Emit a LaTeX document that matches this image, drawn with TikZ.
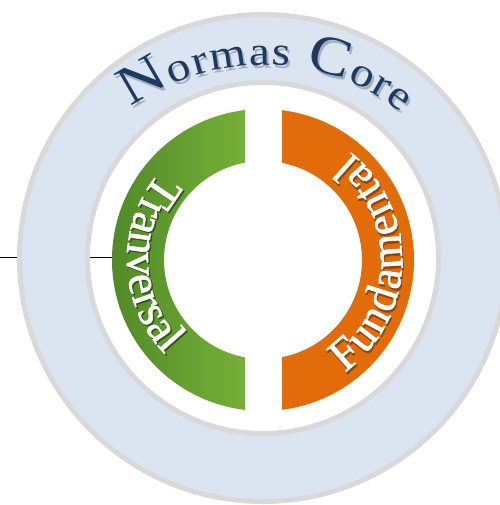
\documentclass[tikz,border=0pt]{standalone}
\usepackage{fontspec}
\setmainfont{Liberation Serif}
\newfontfamily\wafont{Liberation Serif}[FakeStretch=1.15]
\newfontfamily\ringff{Liberation Serif}[FakeBold=1.2]
\usetikzlibrary{decorations.text}
\definecolor{ringblue}{RGB}{219,229,241}
\definecolor{ringgrey}{RGB}{217,217,217}
\definecolor{gdark}{RGB}{78,136,38}
\definecolor{glight}{RGB}{118,176,56}
\definecolor{orng}{RGB}{227,108,10}
\definecolor{navy}{RGB}{31,58,96}
\definecolor{navyshadow}{RGB}{165,177,195}
\definecolor{gshadow}{RGB}{50,88,25}
\definecolor{oshadow}{RGB}{150,68,8}
\newcommand\capfont{\wafont\fontsize{55}{55}\selectfont}
\newcommand\lowfont{\wafont\fontsize{41}{41}\selectfont}
\newcommand\ringfont{\ringff\fontsize{46}{46}\selectfont}
\tikzset{
  greystroke/.style={draw=ringgrey, line width=5},
  alongtext/.style={decorate, decoration={text along path, text={#1}, text align=fit to path}}
}
\begin{document}
\begin{tikzpicture}[x=1pt,y=1pt]
\useasboundingbox (-263,-247) rectangle (236,258);
\fill[white] (-263,-247) rectangle (236,258);
% inner white disc
\fill[white] (0,0) circle[radius=178];
% connector
\coordinate (lstart) at (-263,1);
\coordinate (lend) at (-150,1);
\draw[black, line width=0.8] (lstart) -- (lend);
% outer annulus
\fill[ringblue, even odd rule] (0,0) circle[radius=243.5] (0,0) circle[radius=175.5];
\path[greystroke] (0,0) circle[radius=243.5];
\path[greystroke] (0,0) circle[radius=175.5];
% green half ring
\shade[left color=gdark, right color=glight]
  ([shift={(0,-2)}]96.85:151) arc[start angle=96.85, end angle=263.15, radius=151]
  -- ([shift={(0,-2)}]259.5:99) arc[start angle=259.5, end angle=100.5, radius=99] -- cycle;
% orange half ring
\fill[orng]
  ([shift={(0,-2)}]82.77:151) arc[start angle=82.77, end angle=-82.77, radius=151]
  -- ([shift={(0,-2)}]-78.93:99) arc[start angle=-78.93, end angle=78.93, radius=99] -- cycle;
% Tranversal
\path[alongtext={|\ringfont\color{gshadow}|Tranversal}]
  ([shift={(1.5,-3.5)}]140:136) arc[start angle=140, end angle=224, radius=136];
\path[alongtext={|\ringfont\color{white}|Tranversal}]
  ([shift={(0,-2)}]140:136) arc[start angle=140, end angle=224, radius=136];
% Fundamental
\path[alongtext={|\ringfont\color{oshadow}|Fundamental}]
  ([shift={(1,-4.5)}]-54:139) arc[start angle=-54, end angle=51, radius=139];
\path[alongtext={|\ringfont\color{white}|Fundamental}]
  ([shift={(0,-2)}]-54:139) arc[start angle=-54, end angle=51, radius=139];
% Normas Core
\path[alongtext={|\color{navyshadow}\capfont|N|\color{navyshadow}\lowfont|ormas |\color{navyshadow}\capfont|C|\color{navyshadow}\lowfont|ore}]
  ([shift={(2,-35)}]126:225) arc[start angle=126, end angle=52, radius=225];
\path[alongtext={|\color{navy}\capfont|N|\color{navy}\lowfont|ormas |\color{navy}\capfont|C|\color{navy}\lowfont|ore}]
  ([shift={(0,-32)}]126:225) arc[start angle=126, end angle=52, radius=225];
\end{tikzpicture}
\end{document}
